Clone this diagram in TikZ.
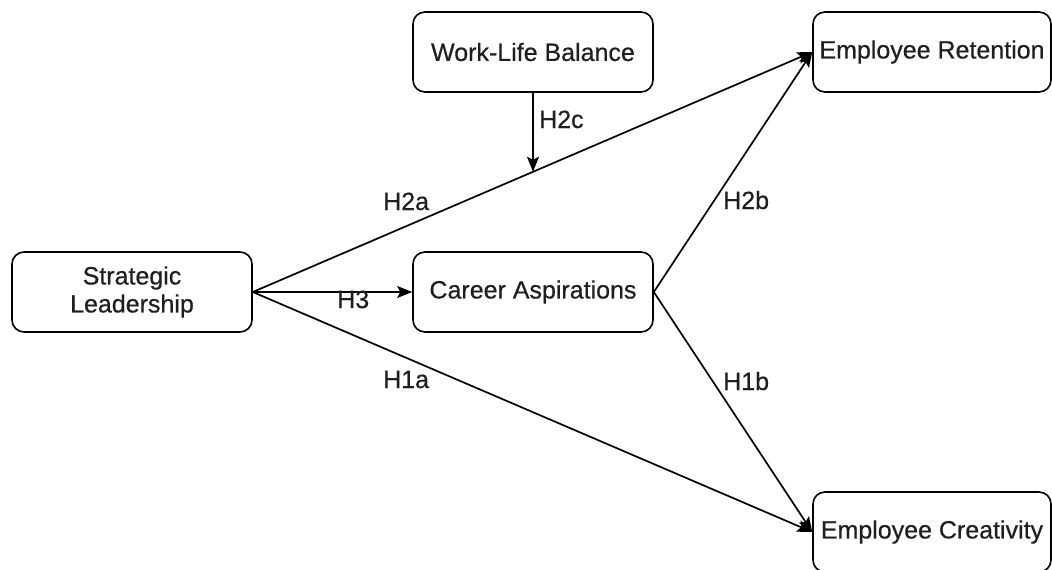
\documentclass[tikz,border=0pt]{standalone}
\usepackage{fontspec}
\setmainfont[FakeBold=0.5]{Liberation Sans}
\usetikzlibrary{arrows.meta,calc}
\begin{document}
\begin{tikzpicture}[x=1pt,y=-1pt,
  box/.style={draw=black, line width=1.6pt, rounded corners=12pt, minimum width=240pt, minimum height=80pt, inner sep=0pt, align=center, font=\fontsize{25}{28}\selectfont, fill=white, text=black!88},
  lab/.style={anchor=base west, inner sep=0pt, font=\fontsize{25}{28}\selectfont, text=black!88},
  edge/.style={line width=1.7pt, -{Stealth[length=15pt,width=12pt,inset=3pt]}}]
\clip (0,0) rectangle (1052,570);
\fill[white] (0,0) rectangle (1052,570);
\node[box] (sl) at (132,292) {Strategic\\Leadership};
\node[box] (ca) at (533,292) {Career Aspirations};
\node[box] (wlb) at (533,52) {Work-Life Balance};
\node[box, minimum width=238pt] (er) at (932,52) {Employee Retention};
\node[box, minimum width=238pt] (ec) at (932,532) {Employee Creativity};
\coordinate (m) at ($(sl.east)!0.5009!(er.west)$);
\draw[edge] (sl.east) -- (er.west);
\draw[edge] (sl.east) -- (ec.west);
\draw[edge] (sl.east) -- (ca.west);
\draw[edge] (ca.east) -- (er.west);
\draw[edge] (ca.east) -- (ec.west);
\draw[edge] (wlb.south) -- (wlb.south |- m);
\node[lab] (h2a) at (383,210) {H2a};
\node[lab] (h1a) at (383,388) {H1a};
\node[lab] (h3) at (337,308) {H3};
\node[lab] (h2b) at (723,209) {H2b};
\node[lab] (h1b) at (723,390) {H1b};
\node[lab] (h2c) at (539,128) {H2c};
\end{tikzpicture}
\end{document}
